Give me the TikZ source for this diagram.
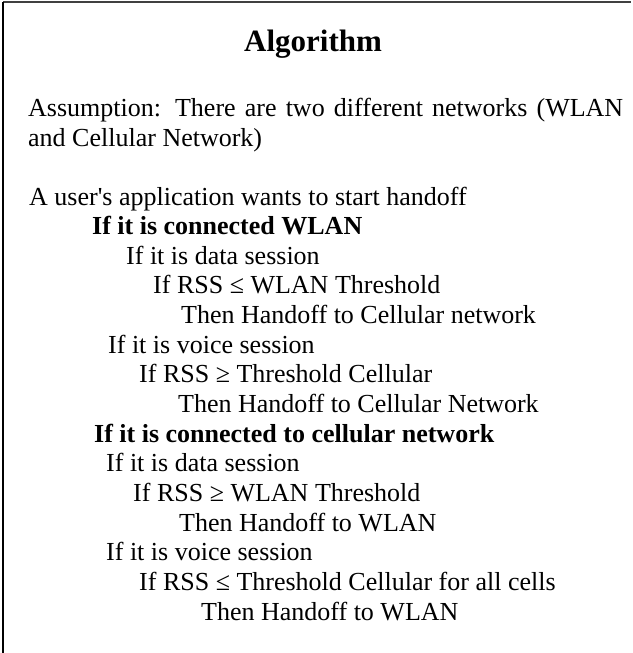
\documentclass[tikz,border=0pt]{standalone}
\usepackage{fontspec}
\setmainfont{Liberation Serif}
\begin{document}
\begin{tikzpicture}[x=1pt,y=-1pt,
  txt/.style={anchor=base west, inner sep=0pt, font=\fontsize{26}{30}\selectfont},
  bld/.style={anchor=base west, inner sep=0pt, font=\fontsize{26}{30}\selectfont\bfseries},
  ttl/.style={anchor=base, inner sep=0pt, font=\fontsize{31}{36}\selectfont\bfseries},
  frameleft/.style={line width=2.5pt, black},
  frametop/.style={line width=2pt, black!75}]
\useasboundingbox (0,0) rectangle (632,653);
\coordinate (fb) at (3,653);
\coordinate (fc) at (3,2);
\coordinate (fr) at (631,2);
\draw[frametop] (fc) -- (fr);
\draw[frameleft] (fb) -- (fc);
\node[ttl] (title) at (313,51) {Algorithm};
\node[txt] (as1) at (28,116) {\makebox[595pt][s]{Assumption: There are two different networks (WLAN}};
\node[txt] (as2) at (28,146) {and Cellular Network)};
\node[txt] (l0) at (29,205) {A user\textquotesingle s application wants to start handoff};
\node[bld] (l1) at (92,234.6) {If it is connected WLAN};
\node[txt] (l2) at (126,264.3) {If it is data session};
\node[txt] (l3) at (153,293.9) {If RSS ≤ WLAN Threshold};
\node[txt] (l4) at (181,323.6) {Then Handoff to Cellular network};
\node[txt] (l5) at (108,353.2) {If it is voice session};
\node[txt] (l6) at (139,382.8) {If RSS ≥ Threshold Cellular};
\node[txt] (l7) at (178,412.5) {Then Handoff to Cellular Network};
\node[bld] (l8) at (94,442.1) {If it is connected to cellular network};
\node[txt] (l9) at (106,471.8) {If it is data session};
\node[txt] (l10) at (133,501.4) {If RSS ≥ WLAN Threshold};
\node[txt] (l11) at (179,531) {Then Handoff to WLAN};
\node[txt] (l12) at (106,560.7) {If it is voice session};
\node[txt] (l13) at (139,590.3) {If RSS ≤ Threshold Cellular for all cells};
\node[txt] (l14) at (201,620) {Then Handoff to WLAN};
\end{tikzpicture}
\end{document}
